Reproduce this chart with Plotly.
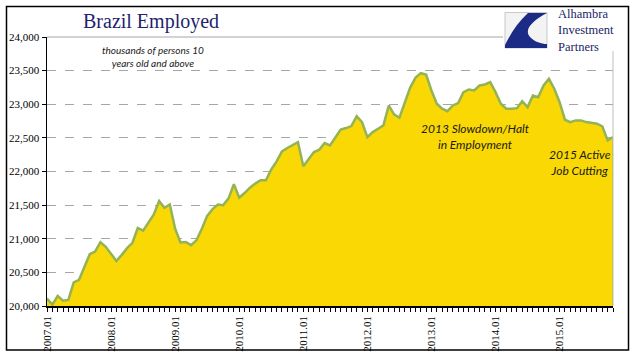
import plotly.graph_objects as go

# Monthly data 2007.01 - 2015.11 (thousands of persons)
months = [f"{y}.{m:02d}" for y in range(2007, 2016) for m in range(1, 13)][:107]
employed = [
    20110, 20020, 20150, 20080, 20090, 20350, 20390, 20590, 20770, 20810, 20950, 20880,
    20770, 20670, 20760, 20860, 20940, 21160, 21120, 21240, 21360, 21560, 21460, 21510,
    21150, 20945, 20950, 20905, 20980, 21150, 21340, 21440, 21510, 21500, 21600, 21810,
    21610, 21680, 21760, 21820, 21870, 21870, 22030, 22150, 22300, 22350, 22400, 22438,
    22077, 22191, 22290, 22325, 22423, 22389, 22503, 22622, 22646, 22675, 22824, 22735,
    22512, 22586, 22636, 22685, 22982, 22849, 22800, 23007, 23244, 23392, 23462, 23442,
    23205, 23007, 22933, 22897, 22982, 23017, 23180, 23220, 23205, 23279, 23294, 23328,
    23180, 23007, 22933, 22933, 22942, 23046, 22957, 23131, 23106, 23279, 23378, 23230,
    23031, 22770, 22735, 22760, 22760, 22735, 22720, 22711, 22671, 22463, 22512,
]
x_idx = list(range(len(employed)))
tick_idx = [i for i, m in enumerate(months) if m.endswith(".01")]
tick_text = [months[i] for i in tick_idx]
y_ticks = list(range(20000, 24001, 500))
y_text = [f"{v:,}" for v in y_ticks]

W, H = 641, 361
L, R, T, B = 47, 613, 37, 306


def px(x):
    return (x - L) / (R - L)


def py(y):
    return (B - y) / (B - T)


fig = go.Figure()
fig.add_trace(go.Scatter(
    x=x_idx, y=employed, mode="lines", fill="tozeroy",
    fillcolor="#F9D804", line=dict(color="#93B356", width=2.5),
    hoverinfo="skip", showlegend=False,
))

serif = "Liberation Serif"
sans = "Lato"

fig.update_layout(
    width=W, height=H,
    margin=dict(l=L, r=W - R, t=T, b=H - B, autoexpand=False),
    paper_bgcolor="white", plot_bgcolor="white",
    xaxis=dict(
        range=[0, len(employed) - 1], tickmode="array", tickvals=tick_idx, ticktext=tick_text,
        tickangle=-90, ticks="outside", ticklen=4, tickcolor="black",
        tickfont=dict(family=serif, size=11, color="black"),
        showline=True, linecolor="black", linewidth=1.5, showgrid=False, zeroline=False,
        automargin=False,
        minor=dict(ticks="outside", ticklen=4, tickcolor="black", dtick=1, tick0=0, showgrid=False),
    ),
    yaxis=dict(
        range=[20000, 24000], tickmode="array", tickvals=y_ticks, ticktext=y_text,
        ticks="outside", ticklen=4, tickcolor="black",
        tickfont=dict(family=serif, size=11, color="black"),
        showline=True, linecolor="black", linewidth=1.5, automargin=False,
        showgrid=True, gridcolor="#A6A6A6", griddash="dash", gridwidth=1, zeroline=False,
    ),
)

shapes = []
# plot area top and right border
shapes.append(dict(type="line", xref="paper", yref="paper", x0=0, x1=1, y0=1, y1=1,
                   line=dict(color="#A6A6A6", width=1)))
shapes.append(dict(type="line", xref="paper", yref="paper", x0=1, x1=1, y0=0, y1=1,
                   line=dict(color="#BFBFBF", width=1)))
# right edge of area outline
shapes.append(dict(type="line", xref="x", yref="y", x0=x_idx[-1], x1=x_idx[-1],
                   y0=20000, y1=employed[-1], line=dict(color="#B5C45A", width=1.5)))
# logo background
shapes.append(dict(type="rect", xref="paper", yref="paper", x0=px(503), x1=px(626),
                   y0=py(51), y1=py(8), fillcolor="white", line=dict(width=0), layer="above"))
# outer border
shapes.append(dict(type="rect", xref="paper", yref="paper", x0=px(6.5), x1=px(628.5),
                   y0=py(350), y1=py(6.5), line=dict(color="black", width=1.5), layer="above"))
# logo icon square
shapes.append(dict(type="rect", xref="paper", yref="paper", x0=px(505), x1=px(547),
                   y0=py(48), y1=py(12.5), fillcolor="#F3F3F3",
                   line=dict(color="#C8C8C8", width=1), layer="above"))


def ppath(points_cmds):
    out = []
    for cmd, pts in points_cmds:
        coords = " ".join(f"{px(a):.4f},{py(b):.4f}" for a, b in pts)
        out.append(f"{cmd} {coords}" if pts else cmd)
    return " ".join(out)


swoosh = ppath([
    ("M", [(528, 13)]), ("L", [(547, 13)]),
    ("C", [(534, 20), (523, 29), (530, 37)]),
    ("C", [(535, 42), (541, 44), (547, 44)]),
    ("L", [(547, 48)]), ("L", [(505, 48)]), ("L", [(505, 45)]),
    ("C", [(511, 33), (518, 22), (528, 13)]), ("Z", []),
])
shapes.append(dict(type="path", xref="paper", yref="paper", path=swoosh,
                   fillcolor="#1C2C86", line=dict(width=0), layer="above"))
fig.update_layout(shapes=shapes)

common = dict(xref="paper", yref="paper", showarrow=False, xanchor="center", yanchor="middle")
ann = []
ann.append(dict(text="Brazil Employed", x=px(151), y=py(21),
                font=dict(family=serif, size=20, color="#1F1F6E"), **common))
ann.append(dict(text="<i>thousands of persons 10<br>years old and above</i>",
                x=px(153), y=py(56.5),
                font=dict(family=sans, size=10, color="#1A1A1A"), **common))
ann.append(dict(text="<i>2013 Slowdown/Halt<br>in Employment</i>",
                x=px(476), y=py(136.5),
                font=dict(family=sans, size=12, color="#1A1A1A"), **common))
ann.append(dict(text="<i>2015 Active<br>Job Cutting</i>",
                x=px(580), y=py(162.5),
                font=dict(family=sans, size=12, color="#1A1A1A"), **common))
logo_common = dict(common, xanchor="left")
ann.append(dict(text="Alhambra<br>Investment<br>Partners", x=px(556), y=py(30.5), align="left",
                font=dict(family=serif, size=12.5, color="#1C2466"), **logo_common))
fig.update_layout(annotations=ann)

# remove the default page margin so the figure sits at the window's top-left corner
fig.write_html(
    "out.html",
    config={"displayModeBar": False, "staticPlot": True},
    post_script="document.body.style.margin='0';document.body.style.overflow='hidden';",
)
